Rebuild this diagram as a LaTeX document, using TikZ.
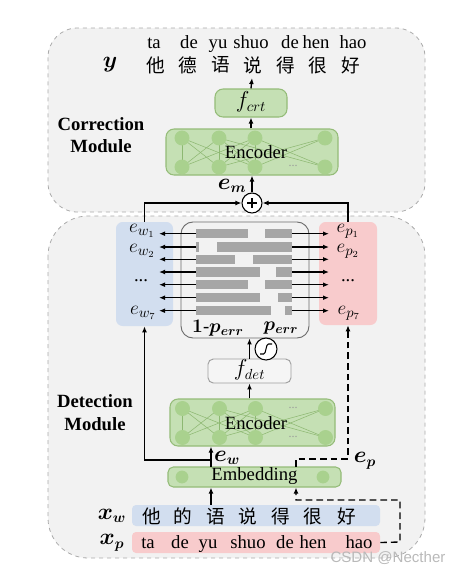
\documentclass[tikz,border=0pt]{standalone}
\usepackage{amsmath,bm}
\usepackage{fontspec}
\setmainfont{Liberation Serif}
\newfontfamily\cjk{Noto Sans CJK SC}
\newfontfamily\wmfont{Liberation Sans}
\usetikzlibrary{arrows.meta,calc}
\definecolor{panelfill}{HTML}{F2F2F2}
\definecolor{paneldraw}{HTML}{ABABAB}
\definecolor{grnfill}{HTML}{C5E0B4}
\definecolor{grnborder}{HTML}{94BC78}
\definecolor{grncirc}{HTML}{A9D18E}
\definecolor{grnline}{HTML}{8DB872}
\definecolor{bluefill}{HTML}{D2DEEF}
\definecolor{pinkfill}{HTML}{F8CBCC}
\definecolor{bargray}{HTML}{A6A6A6}
\tikzset{
  arr/.style={line width=1pt,-{Latex[length=4.5pt,width=3.6pt]}},
  dsh/.style={arr,dash pattern=on 5pt off 3pt},
  panel/.style={draw=paneldraw,fill=panelfill,dashed,line width=0.6pt},
  greenbox/.style={draw=grnborder,fill=grnfill,rounded corners=6pt,line width=0.8pt,inner sep=0pt},
  graybox/.style={draw=gray!75,fill=white!96!black,rounded corners=4pt,line width=0.7pt,inner sep=0pt},
  colbox/.style={rounded corners=5pt,inner sep=0pt},
  cjktxt/.style={font=\cjk\fontsize{14}{16}\selectfont,inner sep=0pt},
  pytxt/.style={anchor=base,inner sep=0pt},
  modlabel/.style={font=\bfseries\fontsize{14}{17}\selectfont,align=center,inner sep=0pt},
  lab/.style={inner sep=0pt},
  mlab/.style={inner sep=0pt,font=\fontsize{16}{18}\selectfont},
  slab/.style={inner sep=0pt,font=\fontsize{15}{17}\selectfont},
  nnc/.style={fill=grncirc},
  nnl/.style={draw=grnline,line width=0.4pt},
  dots/.style={text=gray!80,font=\fontsize{9}{10}\selectfont,inner sep=0pt}
}
\newcommand\nnetdeco[1]{%
  \begin{scope}[shift={(#1.center)}]
    \foreach \a in {-70,-33,3} \foreach \b in {-70,-33,3} \draw[nnl] (\a,15) -- (\b,-14);
    \draw[nnl] (3,15) -- (73,-14);
    \draw[nnl] (73,15) -- (3,-14);
    \draw[nnl] (-33,15) -- (73,-14);
    \draw[nnl] (73,15) -- (-33,-14);
    \foreach \a in {-70,-33,3,73} {
      \fill[nnc] (\a,-14) circle (5.6pt);
      \fill[nnc] (\a,15) circle (5.6pt);
    }
  \end{scope}}
\begin{document}
\begin{tikzpicture}[x=0.75pt,y=-0.75pt,font=\fontsize{14}{16}\selectfont]
\useasboundingbox (0,0) rectangle (459,569);
% panels
\draw[panel,rounded corners=22pt] (48,28) rectangle (425,212);
\draw[panel,rounded corners=30pt] (48,216) rectangle (425,558);

% ---------- correction module ----------
\foreach \x/\t [count=\i] in {154/ta,189/de,218/yu,251/shuo,290/de,316/hen,353/hao}
  \node[pytxt] (py\i) at (\x,48) {\t};
\foreach \x/\t [count=\i] in {156/他,188/德,221/语,253/说,286/得,318/很,351/好}
  \node[cjktxt] (ych\i) at (\x,65) {\t};
\node[mlab] (ylab) at (110,65) {$\bm{y}$};
\coordinate (ytip) at (252,78);

\node[greenbox,minimum width=54pt,minimum height=21pt] (fcrt) at (251,103) {};
\node[mlab] (fcrtt) at (251,102) {$f_{crt}$};
\node[modlabel] (corrlab) at (101,135) {Correction\\Module};

\node[greenbox,minimum width=129pt,minimum height=34.5pt] (enc1) at (252,152) {};
\nnetdeco{enc1}
\node[dots] (enc1dots) at (293,166) {...};
\node[lab] (enc1t) at (256,152) {Encoder};

\node[circle,draw,fill=white,line width=0.8pt,minimum size=15pt,inner sep=0pt] (plus) at (252,203) {};
\draw[line width=0.8pt] ($(plus.center)+(-5,0)$) -- ($(plus.center)+(5,0)$) ($(plus.center)+(0,-5)$) -- ($(plus.center)+(0,5)$);
\node[mlab] (emlab) at (232,186) {$\bm{e_m}$};

\draw[arr] (fcrt.north) -- (ytip);
\draw[arr] (fcrt.south |- enc1.north) -- (fcrt.south);
\draw[arr] (plus.north) -- (plus.north |- enc1.south);

% ---------- detection middle ----------
\node[colbox,fill=bluefill,minimum width=42.75pt,minimum height=78pt] (ewbox) at (144.5,274) {};
\node[colbox,fill=pinkfill,minimum width=43.5pt,minimum height=77.25pt] (pbox) at (348,273.5) {};
\node[draw=gray!85!black,fill=white!95!black,rounded corners=9pt,line width=0.7pt,minimum width=96pt,minimum height=87pt,inner sep=0pt] (gate) at (245,280) {};

\draw[arr] (ewbox.north) |- (plus.west);
\draw[arr] (pbox.north) |- (plus.east);

\foreach \y/\l/\r [count=\i] in {233.7/248/265,247/199/217,259.3/235/253,272/260/276,284.7/248/265,297.7/260/278,310.7/271/285}{
  \fill[bargray] (196,\y-4.6) rectangle (\l,\y+4.6);
  \fill[bargray] (\r,\y-4.6) rectangle (292,\y+4.6);
  \coordinate (ls\i) at (196,\y);
  \coordinate (lt\i) at (159,\y);
  \coordinate (rs\i) at (292,\y);
  \coordinate (rt\i) at (329,\y);
  \draw[arr] (ls\i) -- (lt\i);
  \draw[arr] (rs\i) -- (rt\i);
}
\node[slab] (ew1) at (142,231) {$e_{w_1}$};
\node[slab] (ew2) at (142,251) {$e_{w_2}$};
\node[lab] (ewd) at (141,281) {...};
\node[slab] (ew7) at (143,313) {$e_{w_7}$};
\node[slab] (ep1) at (348,231) {$e_{p_1}$};
\node[slab] (ep2) at (348,251) {$e_{p_2}$};
\node[lab] (epd) at (348,281) {...};
\node[slab] (ep7) at (349,313) {$e_{p_7}$};
\node[lab] (perr1) at (218,328) {$\bm{1\text{-}p_{err}}$};
\node[lab] (perr) at (281,328) {$\bm{p_{err}}$};

\node[graybox,minimum width=62.25pt,minimum height=18pt] (fdet) at (249.5,371) {};
\node[mlab] (fdett) at (249.5,370) {$f_{det}$};
\draw[arr] (fdet.north) -- (fdet.north |- gate.south);
\node[circle,draw,fill=white,line width=0.8pt,minimum size=16.5pt,inner sep=0pt] (sig) at (266,349) {};
\draw[line width=0.8pt] ($(sig.center)+(-6,5)$) -- ($(sig.center)+(-2.5,5)$) .. controls ($(sig.center)+(0.5,5)$) and ($(sig.center)+(-0.5,-5)$) .. ($(sig.center)+(2.5,-5)$) -- ($(sig.center)+(6,-5)$);

% ---------- detection bottom ----------
\node[modlabel] (detlab) at (95,412.5) {Detection\\Module};
\node[greenbox,minimum width=123.75pt,minimum height=35.25pt] (enc2) at (252.5,422.5) {};
\nnetdeco{enc2}
\node[dots] (enc2dotsa) at (293,408) {...};
\node[dots] (enc2dotsb) at (293,437) {...};
\node[lab] (enc2t) at (256,423) {Encoder};
\draw[arr] (fdet.south |- enc2.north) -- (fdet.south);

\node[greenbox,rounded corners=4pt,minimum width=129.75pt,minimum height=15pt] (emb) at (254.5,477) {};
\fill[nnc] (182,477) circle (4.8pt);
\fill[nnc] (323,477) circle (4.8pt);
\node[lab] (embt) at (254.5,476) {Embedding};

\node[colbox,rounded corners=3pt,fill=bluefill,minimum width=186pt,minimum height=15.75pt] (xwbar) at (256,515.5) {};
\node[colbox,rounded corners=3pt,fill=pinkfill,minimum width=186pt,minimum height=15.75pt] (xpbar) at (256,542.5) {};
\foreach \x/\t [count=\i] in {152/他,183/的,216/语,248/说,281/得,313/很,347/好}
  \node[cjktxt] (xw\i) at (\x,516.5) {\t};
\foreach \x/\t [count=\i] in {148/ta,180/de,208/yu,248/shuo,285/de,313/hen,359/hao}
  \node[pytxt] (xp\i) at (\x,548) {\t};
\node[mlab] (xwlab) at (112,516) {$\bm{x_w}$};
\node[mlab] (xplab) at (112,543) {$\bm{x_p}$};

\coordinate (ewb) at (211,467);
\coordinate (ewsplit) at (211,460);
\coordinate (epb) at (296,467);
\coordinate (epturn) at (296,459);
\coordinate (xpc1) at (400,542);
\coordinate (xpc2) at (400,500);
\draw[arr] (ewb) -- (ewb |- enc2.south);
\draw[arr] (ewsplit) -| (ewbox.south);
\draw[arr] (xwbar.north -| ewb) -- (ewb |- emb.south);
\draw[dsh] (epb) -- (epturn) -| (pbox.south);
\draw[dsh] (xpbar.east) -- (xpc1) -- (xpc2) -| (epb |- emb.south);
\node[mlab] (ewlab) at (227,458) {$\bm{e_w}$};
\node[mlab] (eplab) at (365,461) {$\bm{e_p}$};

\node[font=\wmfont\fontsize{11.3}{12}\selectfont,text=gray!55,inner sep=0pt] (wm) at (388,558) {CSDN @Necther};
\end{tikzpicture}
\end{document}
